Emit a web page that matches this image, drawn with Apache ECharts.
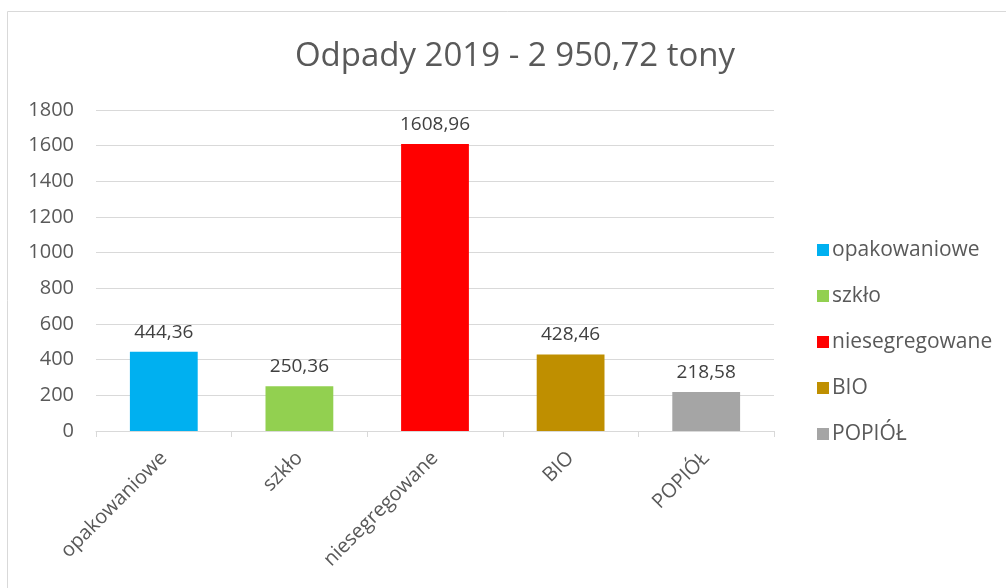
<!DOCTYPE html>
<html>
<head>
<meta charset="utf-8">
<script src="https://cdn.jsdelivr.net/npm/echarts@6/dist/echarts.min.js"></script>
<style>
html,body{margin:0;padding:0;background:#fff;}
#main{width:1006px;height:588px;}
</style>
</head>
<body>
<div id="main"></div>
<script>
var categories = ['opakowaniowe', 'szkło', 'niesegregowane', 'BIO', 'POPIÓŁ'];
var values = [444.36, 250.36, 1608.96, 428.46, 218.58];
var colors = ['#00B0F0', '#92D050', '#FF0000', '#BF8F00', '#A5A5A5'];
var yTicks = [0, 200, 400, 600, 800, 1000, 1200, 1400, 1600, 1800];

var chart = echarts.init(document.getElementById('main'));
var font = '"Open Sans", sans-serif';
var txt = '#595959';

// one series per category so the legend lists each one
var series = [];
for (var i = 0; i < categories.length; i++) {
    var d = [];
    for (var j = 0; j < categories.length; j++) {
        d.push(j == i ? values[i] : null);
    }
    series.push({
        name: categories[i],
        type: 'bar',
        stack: 'all',
        barWidth: '50%',
        data: d,
        itemStyle: {color: colors[i]},
        label: {
            show: true,
            position: 'top',
            distance: 10,
            fontFamily: font,
            fontSize: 19,
            color: '#404040',
            formatter: function(p) { return String(p.value).replace('.', ','); }
        }
    });
}

var option = {
    animation: false,
    color: colors,
    title: {
        text: 'Odpady 2019 - 2 950,72 tony',
        left: 510,
        top: 35,
        textAlign: 'center',
        textStyle: {fontFamily: font, fontWeight: 'normal', fontSize: 33, color: txt}
    },
    graphic: [{
        type: 'rect',
        shape: {x: 7.5, y: 11.5, width: 1010, height: 600},
        style: {fill: null, stroke: '#D9D9D9', lineWidth: 1},
        silent: true
    }],
    legend: {
        orient: 'vertical',
        left: 812,
        top: 233,
        itemWidth: 12,
        itemHeight: 12,
        itemGap: 22,
        icon: 'rect',
        textStyle: {fontFamily: font, fontSize: 21, lineHeight: 24, color: txt, padding: [0, 0, 0, -2]},
        data: categories
    },
    grid: {left: 96, right: 232, top: 110, bottom: 157, containLabel: false},
    xAxis: {
        type: 'category',
        data: categories,
        axisLine: {lineStyle: {color: '#D9D9D9'}},
        axisTick: {show: true, length: 6, lineStyle: {color: '#D9D9D9'}},
        axisLabel: {rotate: 45, fontFamily: font, fontSize: 20, color: txt, margin: 24}
    },
    yAxis: {
        type: 'value',
        min: yTicks[0],
        max: yTicks[yTicks.length - 1],
        interval: 200,
        axisLine: {show: false},
        axisTick: {show: false},
        splitLine: {lineStyle: {color: '#D9D9D9', width: 1}},
        axisLabel: {fontFamily: font, fontSize: 20, color: txt, margin: 22, formatter: function(v) { return String(v); }}
    },
    series: series
};
chart.setOption(option);
</script>
</body>
</html>
